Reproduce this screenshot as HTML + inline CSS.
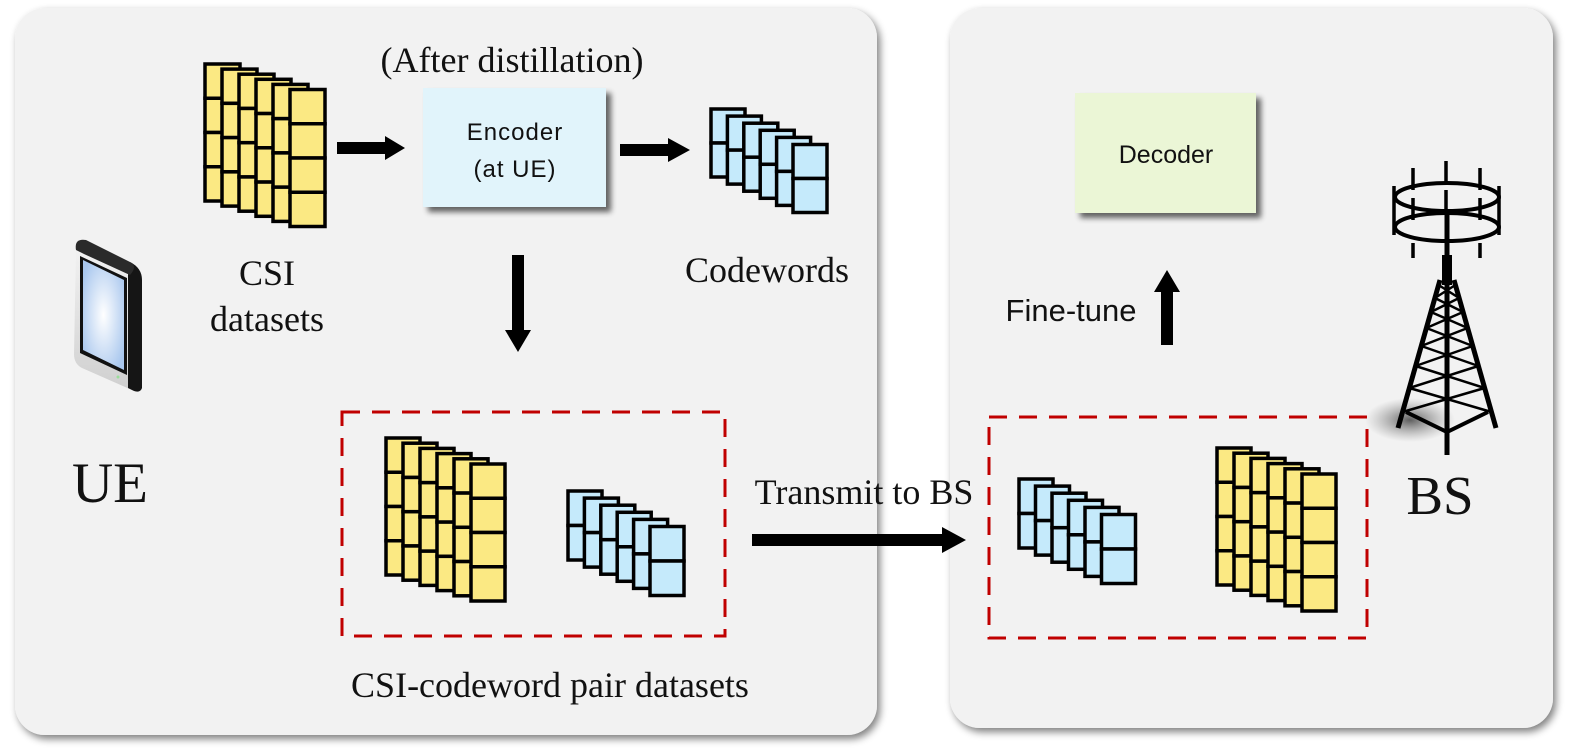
<!DOCTYPE html>
<html><head><meta charset="utf-8">
<style>
html,body{margin:0;padding:0;background:#fff;}
svg{display:block;}
.serif{font-family:"Liberation Serif",serif;fill:#111;}
.sans{font-family:"Liberation Sans",sans-serif;fill:#111;}
</style></head>
<body>
<svg id="s" width="1577" height="755" viewBox="0 0 1577 755" xmlns="http://www.w3.org/2000/svg">
<defs>
<filter id="sh" x="-10%" y="-10%" width="125%" height="125%"><feGaussianBlur in="SourceAlpha" stdDeviation="4"/><feOffset dx="3" dy="4"/><feComponentTransfer><feFuncA type="linear" slope="0.5"/></feComponentTransfer><feMerge><feMergeNode/><feMergeNode in="SourceGraphic"/></feMerge></filter>
<filter id="bsh" x="-20%" y="-20%" width="150%" height="150%"><feGaussianBlur in="SourceAlpha" stdDeviation="3"/><feOffset dx="5" dy="5"/><feComponentTransfer><feFuncA type="linear" slope="0.6"/></feComponentTransfer><feMerge><feMergeNode/><feMergeNode in="SourceGraphic"/></feMerge></filter>
<radialGradient id="scr" cx="0.5" cy="0.5" r="0.6"><stop offset="0" stop-color="#ffffff"/><stop offset="1" stop-color="#a9c7ee"/></radialGradient>
<linearGradient id="body" x1="0" y1="0" x2="0" y2="1"><stop offset="0" stop-color="#f4f4f4"/><stop offset="1" stop-color="#cfcfcf"/></linearGradient>
<radialGradient id="tsh" cx="0.5" cy="0.5" r="0.5"><stop offset="0" stop-color="#444" stop-opacity="0.85"/><stop offset="1" stop-color="#888" stop-opacity="0"/></radialGradient>
</defs>
<rect x="15" y="8" width="862" height="727" rx="30" fill="#f2f2f2" filter="url(#sh)"/>
<rect x="950" y="8" width="603" height="720" rx="30" fill="#f2f2f2" filter="url(#sh)"/>

<rect x="423" y="88" width="183" height="119" fill="#e1f4fb" filter="url(#bsh)"/>
<text class="sans" x="515" y="140" font-size="24" text-anchor="middle" letter-spacing="1">Encoder</text>
<text class="sans" x="515" y="177" font-size="24" text-anchor="middle" letter-spacing="1">(at UE)</text>
<rect x="1075" y="93" width="181" height="120" fill="#ebf6d6" filter="url(#bsh)"/>
<text class="sans" x="1166" y="163" font-size="25" text-anchor="middle">Decoder</text>

<rect x="342" y="412" width="383" height="224" fill="none" stroke="#c00000" stroke-width="3" stroke-dasharray="18,12"/>
<rect x="989" y="417" width="378" height="221" fill="none" stroke="#c00000" stroke-width="3" stroke-dasharray="18,12"/>

<g id="stacks"></g>

<g fill="#000">
<polygon points="337,142 385,142 385,136 405,148 385,160 385,154 337,154"/>
<polygon points="620,144 668,144 668,138 690,150 668,162 668,156 620,156"/>
<polygon points="512,255 524,255 524,330 531,330 518,352 505,330 512,330"/>
<polygon points="1161,345 1173,345 1173,292 1180,292 1167,270 1154,292 1161,292"/>
<polygon points="752,534 942,534 942,527 966,540 942,553 942,546 752,546"/>
</g>

<text class="serif" x="512" y="72" font-size="36" text-anchor="middle">(After distillation)</text>
<text class="serif" x="267" y="285" font-size="36" text-anchor="middle">CSI</text>
<text class="serif" x="267" y="331" font-size="36" text-anchor="middle">datasets</text>
<text class="serif" x="767" y="282" font-size="36" text-anchor="middle">Codewords</text>
<text class="serif" x="110" y="502" font-size="57" text-anchor="middle">UE</text>
<text class="serif" x="1440" y="514" font-size="55" text-anchor="middle">BS</text>
<text class="serif" x="864" y="504" font-size="36" text-anchor="middle">Transmit to BS</text>
<text class="serif" x="550" y="697" font-size="36" text-anchor="middle">CSI-codeword pair datasets</text>
<text class="sans" x="1071" y="321" font-size="31" text-anchor="middle">Fine-tune</text>

<g>
<path d="M76,250 Q74,238 86,240 L130,262 Q142,268 142,280 L142,388 Q140,394 132,390 L82,368 Q74,364 74,354 Z" fill="url(#body)"/>
<path d="M130,262 Q142,268 142,280 L142,388 Q140,394 132,390 L128,388 L128,275 Z" fill="#151515"/>
<path d="M76,250 Q74,238 86,240 L130,262 Q138,266 130,275 L84,254 Z" fill="#2a2a2a"/>
<path d="M80,256 L127,278 L127,375 L80,353 Z" fill="#111"/>
<path d="M83,260 L124,280 L124,370 L83,350 Z" fill="url(#scr)"/>
<circle cx="118" cy="377" r="1.5" fill="#9d9"/>
</g>

<g stroke="#000" fill="none">
<ellipse cx="1410" cy="420" rx="45" ry="22" fill="url(#tsh)" stroke="none"/>
<ellipse cx="1447" cy="197" rx="52" ry="14" stroke-width="4"/>
<ellipse cx="1447" cy="227" rx="52" ry="14" stroke-width="4"/>
<g stroke-width="3.5">
<line x1="1413" y1="168" x2="1413" y2="190"/><line x1="1446" y1="161" x2="1446" y2="183"/><line x1="1480" y1="168" x2="1480" y2="190"/>
<line x1="1394" y1="186" x2="1394" y2="235"/><line x1="1499" y1="186" x2="1499" y2="235"/>
<line x1="1413" y1="198" x2="1413" y2="220"/><line x1="1446" y1="190" x2="1446" y2="212"/><line x1="1480" y1="198" x2="1480" y2="220"/>
<line x1="1413" y1="243" x2="1413" y2="258"/><line x1="1480" y1="243" x2="1480" y2="258"/>
</g>
<line x1="1447" y1="210" x2="1447" y2="455" stroke-width="5"/>
<rect x="1442" y="255" width="10" height="30" fill="#000" stroke="none"/>
<line x1="1440" y1="280" x2="1398" y2="428" stroke-width="5"/>
<line x1="1454" y1="280" x2="1496" y2="428" stroke-width="5"/>
<g stroke-width="2.5" id="lat"></g>
<polyline points="1406,412 1447,432 1488,412" stroke-width="4"/>
</g>
</svg>
<script>
(function(){
var NS="http://www.w3.org/2000/svg",g=document.getElementById('stacks');
function r(x,y,w,h,f){var e=document.createElementNS(NS,'rect');e.setAttribute('x',x);e.setAttribute('y',y);e.setAttribute('width',w);e.setAttribute('height',h);e.setAttribute('fill',f);e.setAttribute('stroke','#000');e.setAttribute('stroke-width','3.5');g.appendChild(e);}
function stack(x0,y0,w,h,dx,dy,rows,f){
 for(var i=0;i<6;i++){var x=x0+i*dx,y=y0+i*dy;for(var j=0;j<rows;j++)r(x,y+j*h/rows,w,h/rows,f);}
}
var Y="#fbe983",B="#c5eafb";
stack(205,64,35,137,17,5.1,4,Y);
stack(386,438,34,137,17,5.2,4,Y);
stack(1217,448,34,137,17,5.2,4,Y);
stack(711,109,34,68,16.4,7.1,2,B);
stack(568,491,34,69,16.4,7.1,2,B);
stack(1019,479,34,69,16.5,7.1,2,B);
var lat=document.getElementById('lat');
function L(x1,y1,x2,y2){var e=document.createElementNS(NS,'line');e.setAttribute('x1',x1);e.setAttribute('y1',y1);e.setAttribute('x2',x2);e.setAttribute('y2',y2);lat.appendChild(e);}
function lx(y){return 1440-(y-280)*42/148;}function rx(y){return 1454+(y-280)*42/148;}
var ys=[285,298,312,328,346,366,388,412];
for(var k=0;k<ys.length-1;k++){var a=ys[k],b=ys[k+1];L(lx(a),a,rx(b),b);L(rx(a),a,lx(b),b);}
})();
</script>
</body></html>
